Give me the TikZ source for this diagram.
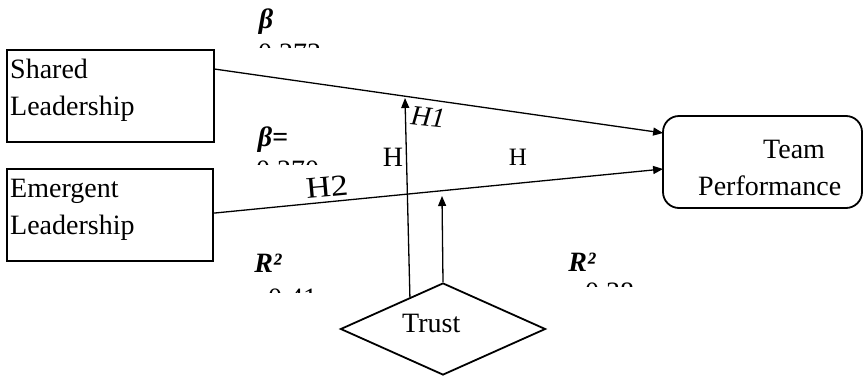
\documentclass[tikz,border=0pt]{standalone}
\usepackage{fontspec}
\setmainfont{Liberation Serif}
\usetikzlibrary{shapes.geometric,arrows.meta,calc}
\begin{document}
\begin{tikzpicture}[x=1pt,y=-1pt,
  boxr/.style={draw,line width=1.8pt,inner sep=0,minimum height=92pt},
  txt/.style={inner sep=0,anchor=base west,font=\fontsize{28}{37}\selectfont},
  lbl/.style={inner sep=0,font=\fontsize{28}{37}\selectfont},
  num/.style={inner sep=0,anchor=base west,font=\fontsize{28}{37}\selectfont},
  conn/.style={line width=1.3pt,-{Triangle[length=10pt,width=8pt]}},
  plain/.style={line width=1.3pt}]
\useasboundingbox (0,0) rectangle (865,378);
% boxes
\node[boxr,minimum width=207pt] (sl) at (110.5,96) {};
\node[boxr,minimum width=206pt] (el) at (110,215) {};
\node[boxr,minimum width=199pt,rounded corners=16pt] (tp) at (762.5,162) {};
\node[draw,line width=1.8pt,shape=diamond,inner sep=0,minimum width=205pt,minimum height=92pt] (trust) at (443,329) {};
% box texts
\node[txt] (sl1) at (10,78) {Shared};
\node[txt] (sl2) at (10,115) {Leadership};
\node[txt] (el1) at (10,197) {Emergent};
\node[txt] (el2) at (10,234) {Leadership};
\node[txt] (tp1) at (763,158) {Team};
\node[txt] (tp2) at (698,195) {Performance};
\node[txt] (tr1) at (402,332) {Trust};
% connectors
\draw[conn] ($(sl.north east)+(0,20)$) -- ($(tp.west)+(1,-29)$);
\draw[conn] ($(el.north east)+(0,45)$) -- ($(tp.west)+(1,7)$);
\coordinate (m1) at (405,98);
\coordinate (m2) at (442,196);
\draw[conn] ($(trust.north)!0.32!(trust.west)$) -- (m1);
\draw[conn] (trust.north) -- (m2);
% labels
\node[lbl] (b1) at (266,22) {\bfseries\itshape β};
\node[lbl] (b2) at (273,140) {\bfseries\itshape β=};
\node[lbl] (r1) at (268,263) {\bfseries\itshape R²};
\node[lbl] (r2) at (582,262) {\bfseries\itshape R²};
\node[lbl] (hl) at (393,157) {H};
\node[lbl,font=\fontsize{25}{30}\selectfont] (hr) at (518,157) {H};
\node[lbl,rotate=-6] (h1) at (428,117) {\itshape H1};
\node[lbl,rotate=5,font=\fontsize{30}{36}\selectfont,xscale=1.15] (h2) at (327,187) {H2};
% clipped values
\begin{scope}
\clip (250,40) rectangle (330,47);
\node[num] (v1) at (258,62) {0.273};
\end{scope}
\begin{scope}
\clip (250,157) rectangle (330,164);
\node[num] (v2) at (256,179) {0.270};
\end{scope}
\begin{scope}
\clip (260,285) rectangle (330,292);
\node[num] (v3) at (268,307) {0.41};
\end{scope}
\begin{scope}
\clip (575,279) rectangle (645,286);
\node[num] (v4) at (585,301) {0.38};
\end{scope}
\end{tikzpicture}
\end{document}
